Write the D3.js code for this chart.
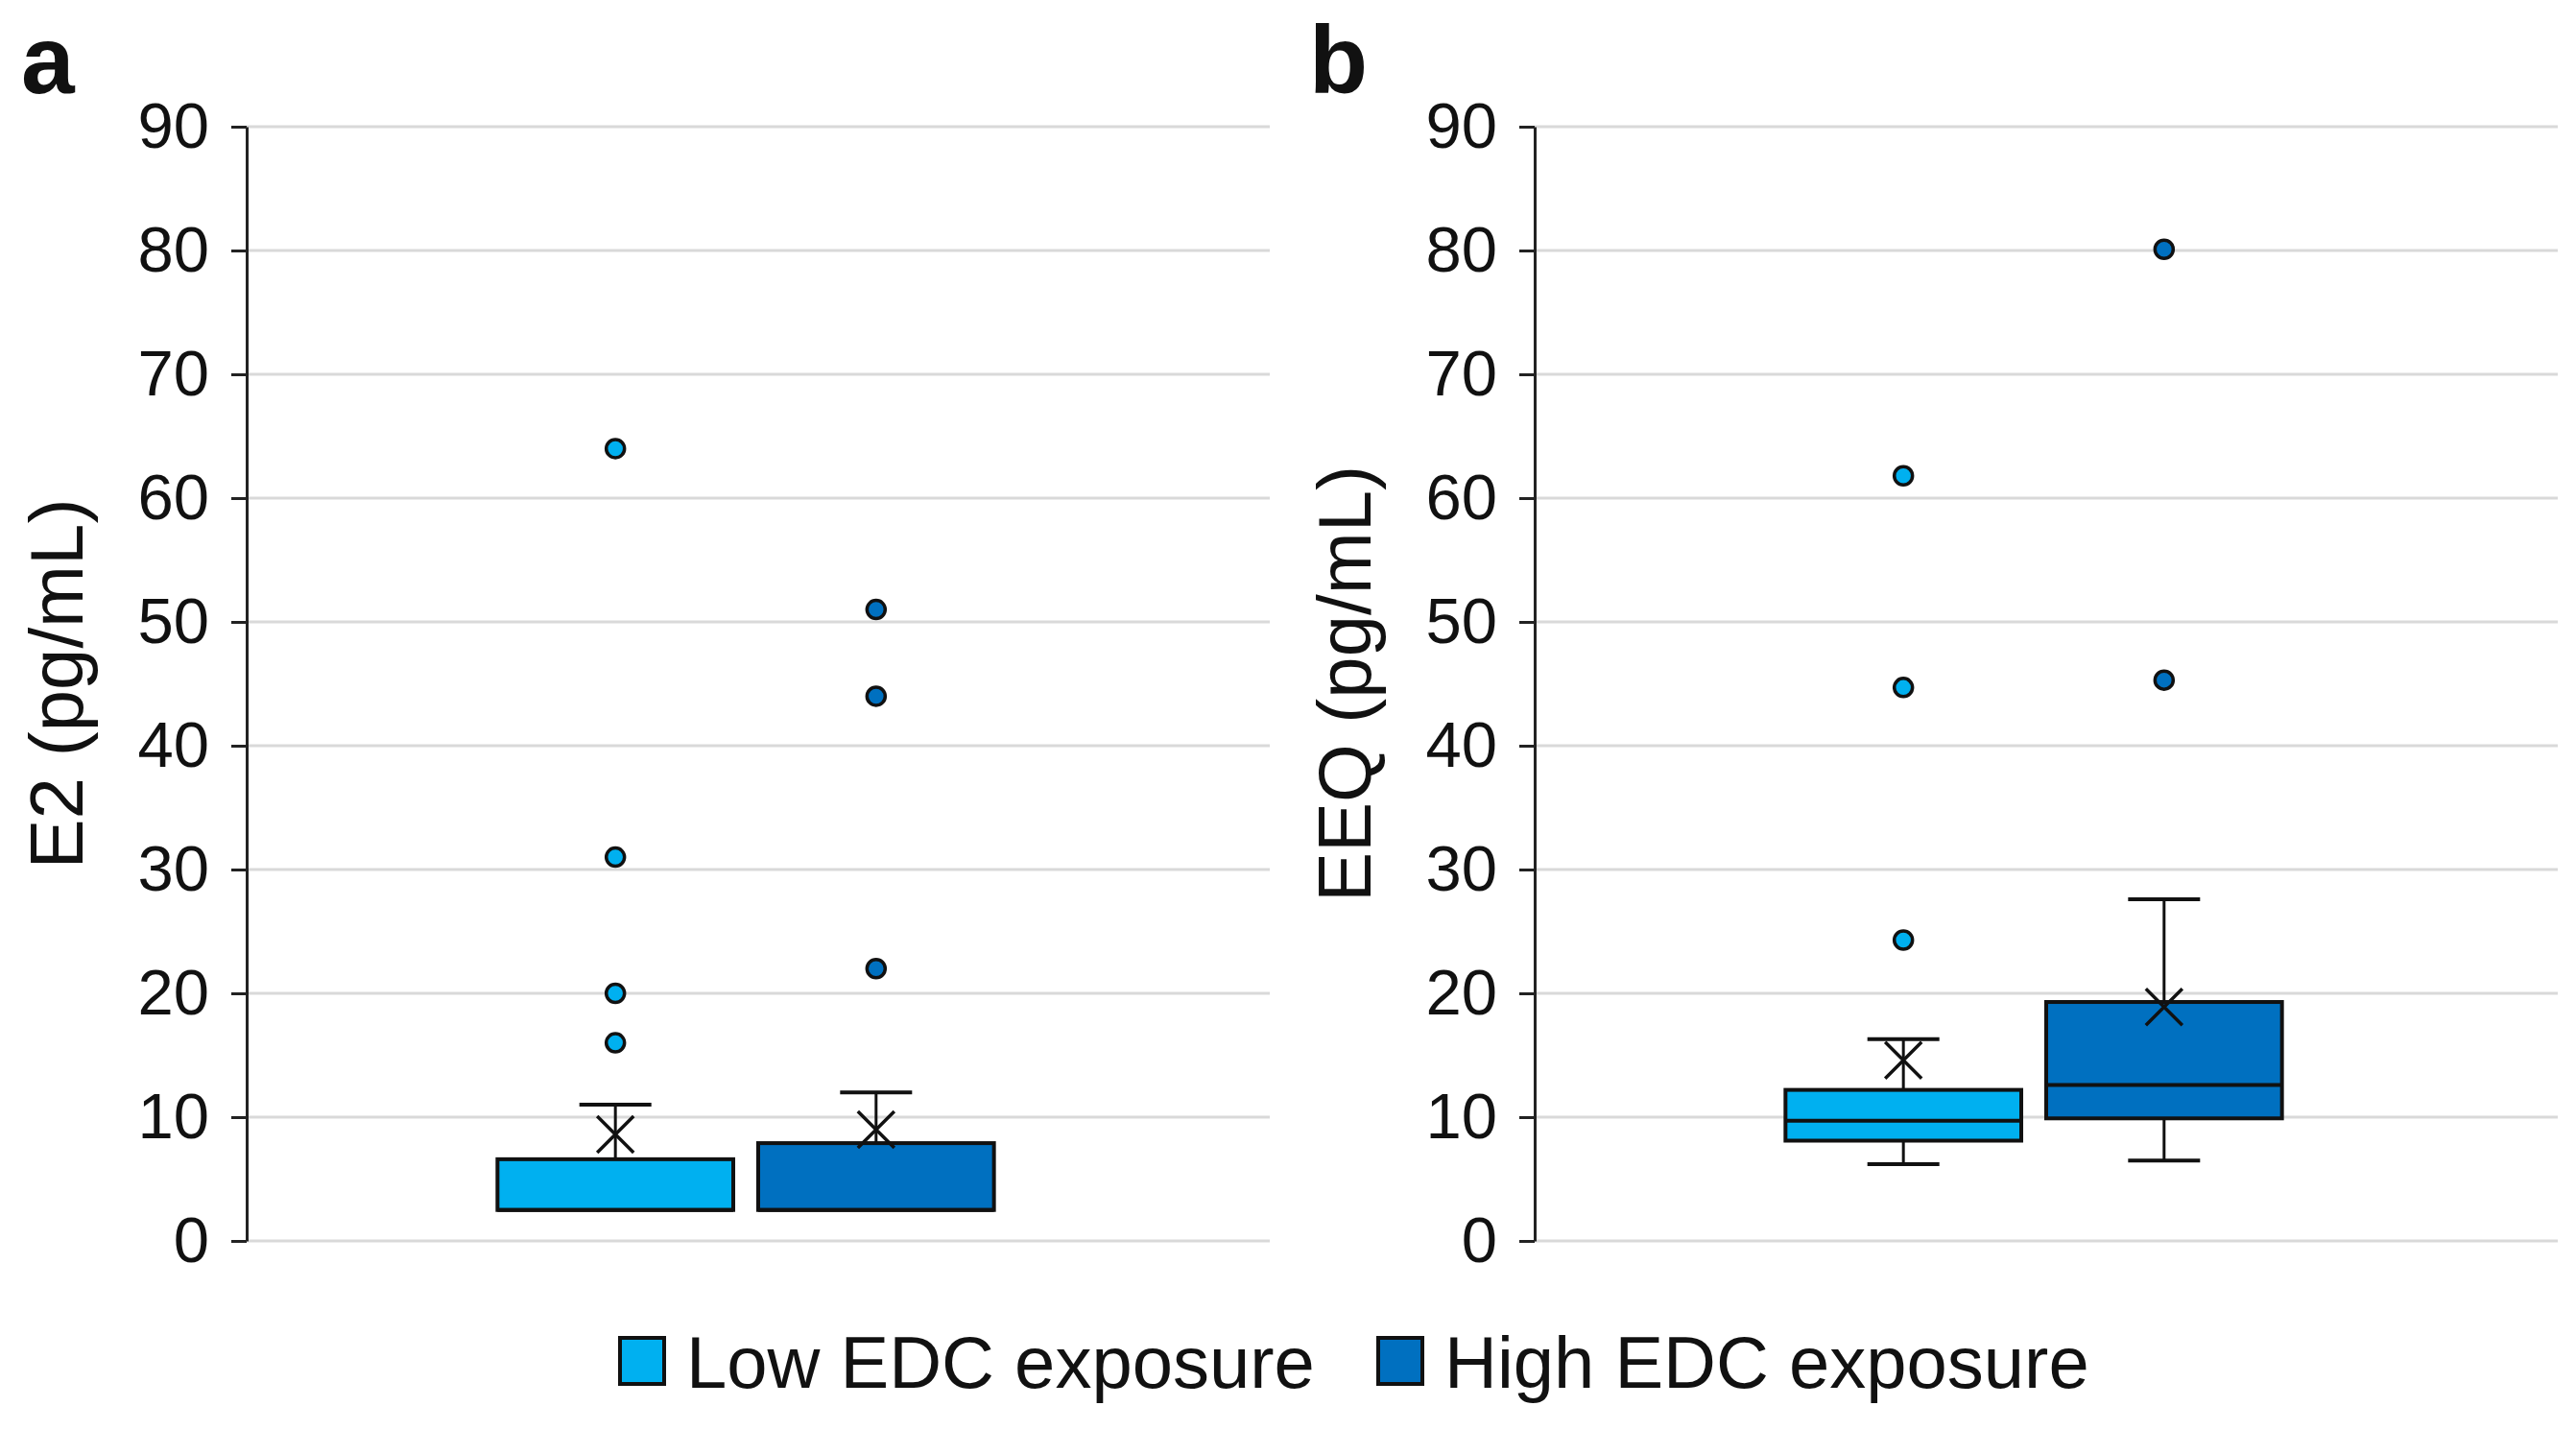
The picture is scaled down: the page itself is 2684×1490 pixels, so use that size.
<!DOCTYPE html>
<html>
<head>
<meta charset="utf-8">
<script src="https://cdn.jsdelivr.net/npm/d3@7"></script>
<style>
  body { margin: 0; background: #fff; }
  text { font-family: "Liberation Sans", Arial, sans-serif; fill: #111; }
</style>
</head>
<body>
<script>
// series shown in both panels
const seriesNames = ["Low EDC exposure", "High EDC exposure"];
const seriesColors = ["#00b0f0", "#0070c0"];
const yTicks = [0, 10, 20, 30, 40, 50, 60, 70, 80, 90];

// stats per series: min, q1, median, q3, max, mean
const e2Low = [2.5, 2.5, 2.5, 6.6, 11.0, 8.6];
const e2High = [2.5, 2.5, 2.5, 7.9, 12.0, 9.0];
const e2LowOutliers = [64, 31, 20, 16];
const e2HighOutliers = [51, 44, 22];

const eeqLow = [6.2, 8.1, 9.7, 12.2, 16.3, 14.6];
const eeqHigh = [6.5, 9.9, 12.6, 19.3, 27.6, 18.9];
const eeqLowOutliers = [61.8, 44.7, 24.3];
const eeqHighOutliers = [80.1, 45.3];

const panels = [
  {letter: "a", title: "E2 (pg/mL)", stats: [e2Low, e2High], outliers: [e2LowOutliers, e2HighOutliers]},
  {letter: "b", title: "EEQ (pg/mL)", stats: [eeqLow, eeqHigh], outliers: [eeqLowOutliers, eeqHighOutliers]}
];

const width = 2684, height = 1490;
const svg = d3.select("body").append("svg")
  .attr("width", width).attr("height", height);

const plotLeft = 257, plotWidth = 1066, plotTop = 132, plotBottom = 1293;
const panelStep = 1342;

const y = d3.scaleLinear().domain([0, 90]).range([plotBottom, plotTop]);
// boxes sit a little left of the plot centre, as in the original
const x = d3.scaleBand().domain(seriesNames).range([-13, plotWidth - 13])
  .paddingInner(0.0956).paddingOuter(1.01);

const capW = 75, crossR = 19;

panels.forEach((p, pi) => {
  const g = svg.append("g").attr("transform", "translate(" + (pi * panelStep) + ",0)");

  // gridlines
  g.append("g").selectAll("line").data(yTicks).enter().append("line")
    .attr("x1", plotLeft).attr("x2", plotLeft + plotWidth)
    .attr("y1", d => y(d)).attr("y2", d => y(d))
    .attr("stroke", "#d9d9d9").attr("stroke-width", 3);

  // y axis
  const axis = g.append("g").attr("transform", "translate(" + plotLeft + ",0)")
    .call(d3.axisLeft(y).tickValues(yTicks).tickSize(16).tickPadding(23).tickSizeOuter(0));
  axis.select(".domain").attr("stroke", "#222").attr("stroke-width", 3);
  axis.selectAll(".tick line").attr("stroke", "#222").attr("stroke-width", 3);
  axis.selectAll(".tick text").attr("font-size", 67).attr("fill", "#111")
    .attr("font-family", "'Liberation Sans', Arial, sans-serif");

  // axis title
  g.append("text")
    .attr("transform", "translate(86," + ((plotTop + plotBottom) / 2) + ") rotate(-90)")
    .attr("text-anchor", "middle").attr("font-size", 78)
    .text(p.title);

  // panel letter
  g.append("text").attr("x", 22).attr("y", 97)
    .attr("font-size", 100).attr("font-weight", "bold")
    .text(p.letter);

  const plot = g.append("g").attr("transform", "translate(" + plotLeft + ",0)");

  seriesNames.forEach((name, si) => {
    const s = p.stats[si];
    const cx = x(name) + x.bandwidth() / 2;
    const bg = plot.append("g");

    // whiskers
    [[s[0], s[1]], [s[3], s[4]]].forEach(w => {
      if (w[0] === w[1]) return;
      bg.append("line").attr("x1", cx).attr("x2", cx)
        .attr("y1", y(w[0])).attr("y2", y(w[1]))
        .attr("stroke", "#111").attr("stroke-width", 3);
    });
    [s[0], s[4]].forEach((v, i) => {
      if (v === s[i === 0 ? 1 : 3]) return;
      bg.append("line").attr("x1", cx - capW / 2).attr("x2", cx + capW / 2)
        .attr("y1", y(v)).attr("y2", y(v))
        .attr("stroke", "#111").attr("stroke-width", 4);
    });

    // box
    bg.append("rect")
      .attr("x", x(name)).attr("width", x.bandwidth())
      .attr("y", y(s[3])).attr("height", y(s[1]) - y(s[3]))
      .attr("fill", seriesColors[si]).attr("stroke", "#111").attr("stroke-width", 4);

    // median
    bg.append("line").attr("x1", x(name)).attr("x2", x(name) + x.bandwidth())
      .attr("y1", y(s[2])).attr("y2", y(s[2]))
      .attr("stroke", "#111").attr("stroke-width", 4);

    // mean marker
    const my = y(s[5]);
    bg.append("path")
      .attr("d", "M" + (cx - crossR) + "," + (my - crossR) + "L" + (cx + crossR) + "," + (my + crossR) +
                 "M" + (cx - crossR) + "," + (my + crossR) + "L" + (cx + crossR) + "," + (my - crossR))
      .attr("stroke", "#111").attr("stroke-width", 3.5).attr("fill", "none");

    // outliers
    bg.selectAll("circle").data(p.outliers[si]).enter().append("circle")
      .attr("cx", cx).attr("cy", d => y(d)).attr("r", 9.5)
      .attr("fill", seriesColors[si]).attr("stroke", "#111").attr("stroke-width", 3.5);
  });
});

// legend
const legendX = [646, 1436];
const legend = svg.append("g");
seriesNames.forEach((name, i) => {
  legend.append("rect").attr("x", legendX[i]).attr("y", 1394)
    .attr("width", 46).attr("height", 48)
    .attr("fill", seriesColors[i]).attr("stroke", "#111").attr("stroke-width", 4);
  legend.append("text").attr("x", legendX[i] + 69).attr("y", 1446)
    .attr("font-size", 76).text(name);
});
</script>
</body>
</html>
